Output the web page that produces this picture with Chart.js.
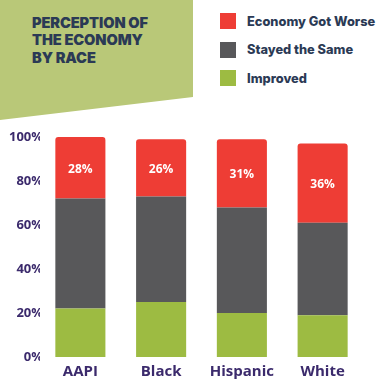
<!DOCTYPE html>
<html>
<head>
<meta charset="utf-8">
<script src="https://cdn.jsdelivr.net/npm/chart.js@4"></script>
<style>
  html, body { margin: 0; padding: 0; background: #ffffff; }
  #wrap { position: relative; width: 376px; height: 380px; overflow: hidden; background: #fff; }
  #bg { position: absolute; left: 0; top: 0; }
  #title { position: absolute; left: 32px; top: 15px; font-family: "Inter", sans-serif; font-weight: 900;
           font-size: 14.6px; line-height: 17.3px; color: #2b3a55; letter-spacing: -0.1px; }
  #legend { position: absolute; left: 220px; top: 13px; font-family: "Inter", sans-serif; font-weight: 800;
            font-size: 12.8px; color: #2b3a55; }
  .li { display: flex; align-items: center; height: 16px; margin-bottom: 12.5px; white-space: nowrap; }
  .sw { width: 16px; height: 16px; margin-right: 11px; flex: none; }
  #c { position: absolute; left: 0; top: 0; }
</style>
</head>
<body>
<div id="wrap">
  <svg id="bg" width="376" height="380"><polygon points="0,0 193,0 193,97 0,120" fill="#b9c878"/></svg>
  <div id="title">PERCEPTION OF<br>THE ECONOMY<br>BY RACE</div>
  <div id="legend"></div>
  <canvas id="c" width="376" height="380"></canvas>
</div>
<script>
const categories = ["AAPI", "Black", "Hispanic", "White"];
const improved = [22, 25, 20, 19];
const stayedSame = [50, 48, 48, 42];
const gotWorse = [28, 26, 31, 36];
const yTicks = [0, 20, 40, 60, 80, 100];
const seriesNames = ["Improved", "Stayed the Same", "Economy Got Worse"];
const colors = { worse: "#ee3d35", same: "#58585a", improved: "#9dbb42" };
const axisColor = "#3b2a6c";

// legend (HTML text)
const legendItems = [
  [seriesNames[2], colors.worse],
  [seriesNames[1], colors.same],
  [seriesNames[0], colors.improved]
];
const lg = document.getElementById("legend");
legendItems.forEach(([name, col]) => {
  const d = document.createElement("div");
  d.className = "li";
  d.innerHTML = '<span class="sw" style="background:' + col + '"></span><span>' + name + '</span>';
  lg.appendChild(d);
});

const labelPlugin = {
  id: "worseLabels",
  afterDatasetsDraw(chart) {
    const ctx = chart.ctx;
    const meta = chart.getDatasetMeta(2);
    ctx.save();
    ctx.fillStyle = "#ffffff";
    ctx.font = "bold 12px 'Open Sans', sans-serif";
    ctx.textAlign = "center";
    ctx.textBaseline = "middle";
    meta.data.forEach((el, i) => {
      const p = el.getProps(["x", "y", "base"], true);
      ctx.fillText(gotWorse[i] + "%", p.x, (p.y + p.base) / 2 + 1.5);
    });
    ctx.restore();
  }
};

new Chart(document.getElementById("c"), {
  type: "bar",
  data: {
    labels: categories,
    datasets: [
      { label: seriesNames[0], data: improved, backgroundColor: colors.improved, borderSkipped: false },
      { label: seriesNames[1], data: stayedSame, backgroundColor: colors.same, borderSkipped: false },
      { label: seriesNames[2], data: gotWorse, backgroundColor: colors.worse, borderSkipped: false,
        borderRadius: { topLeft: 3, topRight: 3, bottomLeft: 0, bottomRight: 0 } }
    ]
  },
  options: {
    responsive: false,
    animation: false,
    layout: { padding: { top: 137, right: 13, left: 0, bottom: 0 } },
    datasets: { bar: { categoryPercentage: 1, barPercentage: 0.62 } },
    plugins: { legend: { display: false }, tooltip: { enabled: false } },
    scales: {
      x: {
        stacked: true,
        grid: { display: false, drawTicks: false },
        border: { display: false },
        ticks: { color: axisColor, padding: 6, font: { family: "'Open Sans', sans-serif", weight: "bold", size: 15 } },
        afterFit(s) { s.height = 23; }
      },
      y: {
        stacked: true,
        min: 0, max: 100,
        afterBuildTicks(s) { s.ticks = yTicks.map(v => ({ value: v })); },
        grid: { display: false, drawTicks: false },
        border: { display: false },
        ticks: { color: axisColor, padding: -3, callback: v => v + "%",
                 font: { family: "'Open Sans', sans-serif", weight: "bold", size: 13 } },
        afterFit(s) { s.width = 40; }
      }
    }
  },
  plugins: [labelPlugin]
});
</script>
</body>
</html>
